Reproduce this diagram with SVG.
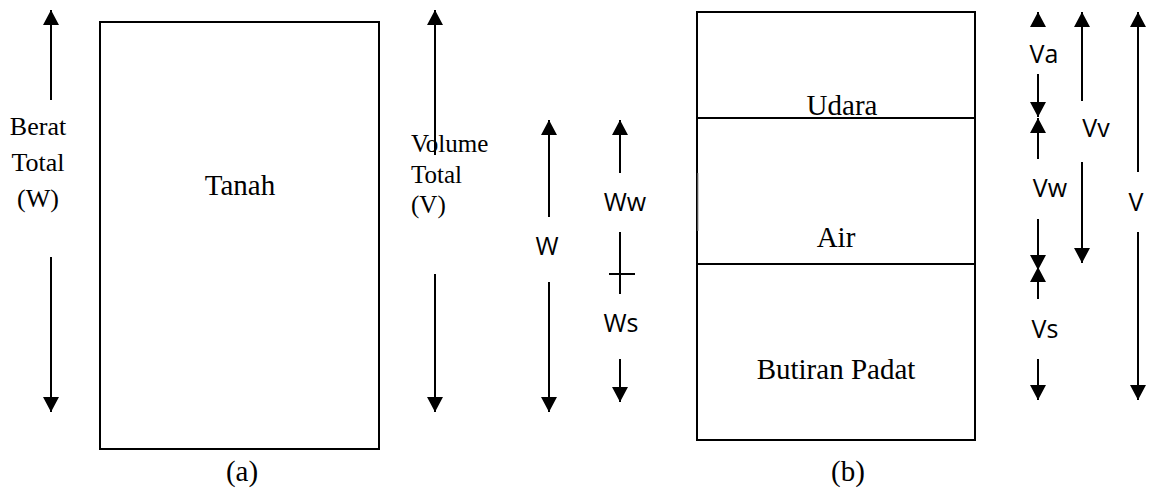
<svg xmlns="http://www.w3.org/2000/svg" width="1149" height="488" viewBox="0 0 1149 488">
<style>
.serif{font-family:"Liberation Serif","Times New Roman",serif;fill:#000}
.s26{font-size:26px}
.s25{font-size:25px}
.s29{font-size:29px}
.sans{font-family:"Open Sans","Noto Sans","Liberation Sans",sans-serif;font-size:25px;fill:#000}
.box{fill:#fff;stroke:#000;stroke-width:2}
.ln{stroke:#000;stroke-width:2;fill:none}
.arr{stroke:#000;stroke-width:2;fill:none;marker-end:url(#ah)}
</style>
<defs>
<marker id="ah" viewBox="0 0 15 16" refX="15" refY="8" markerWidth="15" markerHeight="16" markerUnits="userSpaceOnUse" orient="auto">
<path d="M0,0 L15,8 L0,16 Z" fill="#000"/>
</marker>
</defs>

<g id="tanah">
<rect class="box" x="100" y="22" width="279" height="427"/>
<text class="serif s29" x="240" y="195" text-anchor="middle">Tanah</text>
</g>

<g id="label-a"><text class="serif s29" x="242" y="481" text-anchor="middle">(a)</text></g>

<g id="berat-total">
<text class="serif s26" x="38" y="135" text-anchor="middle">Berat</text>
<text class="serif s26" x="38" y="171" text-anchor="middle">Total</text>
<text class="serif s26" x="38" y="207" text-anchor="middle">(W)</text>
</g>

<g id="volume-total">
<text class="serif s25" x="411" y="152">Volume</text>
<text class="serif s25" x="411" y="183">Total</text>
<text class="serif s25" x="411" y="213">(V)</text>
</g>

<g id="fase-tanah">
<rect class="box" x="697" y="12" width="278" height="428" stroke="none"/>
<line class="ln" x1="697" y1="12" x2="975" y2="12"/>
<line class="ln" x1="975" y1="12" x2="975" y2="440"/>
<line class="ln" x1="697" y1="440" x2="975" y2="440"/>
<line class="ln" x1="697" y1="12" x2="697" y2="173"/>
<line stroke="#999" stroke-width="1" x1="698" y1="173" x2="698" y2="231"/>
<line class="ln" x1="697" y1="231" x2="697" y2="440"/>
<line class="ln" x1="697" y1="118" x2="975" y2="118"/>
<line class="ln" x1="697" y1="264" x2="975" y2="264"/>
</g>
<g id="udara"><text class="serif s29" x="842" y="115" text-anchor="middle">Udara</text></g>
<g id="air"><text class="serif s29" x="836" y="247" text-anchor="middle">Air</text></g>
<g id="butiran"><text class="serif s29" x="836" y="379" text-anchor="middle">Butiran Padat</text></g>
<g id="label-b"><text class="serif s29" x="848" y="481" text-anchor="middle">(b)</text></g>

<g id="sym-labels">
<text class="sans" x="547" y="255" text-anchor="middle">W</text>
<text class="sans" x="625" y="211" text-anchor="middle">Ww</text>
<text class="sans" x="621" y="332" text-anchor="middle">Ws</text>
<text class="sans" x="1044" y="63" text-anchor="middle">Va</text>
<text class="sans" x="1050" y="197" text-anchor="middle">Vw</text>
<text class="sans" x="1045" y="338" text-anchor="middle">Vs</text>
<text class="sans" x="1096" y="137" text-anchor="middle">Vv</text>
<text class="sans" x="1136" y="211" text-anchor="middle">V</text>
</g>

<g id="connectors">
<!-- Berat total -->
<line class="arr" x1="51" y1="100" x2="51" y2="10"/>
<line class="arr" x1="51" y1="257" x2="51" y2="412"/>
<!-- Volume total -->
<line class="arr" x1="435" y1="155" x2="435" y2="10"/>
<line class="arr" x1="435" y1="274" x2="435" y2="412"/>
<!-- W -->
<line class="arr" x1="549" y1="217" x2="549" y2="120"/>
<line class="arr" x1="549" y1="282" x2="549" y2="412"/>
<!-- Ww / Ws -->
<line class="arr" x1="620" y1="173" x2="620" y2="120"/>
<line class="ln" x1="620" y1="232" x2="620" y2="294"/>
<line class="ln" x1="609" y1="274" x2="635" y2="274"/>
<line class="arr" x1="620" y1="359" x2="620" y2="402"/>
<!-- Va -->
<line class="arr" x1="1038" y1="26" x2="1038" y2="12"/>
<line class="arr" x1="1038" y1="74" x2="1038" y2="117"/>
<!-- Vw -->
<line class="arr" x1="1038" y1="159" x2="1038" y2="118"/>
<line class="arr" x1="1038" y1="219" x2="1038" y2="270"/>
<!-- Vs -->
<line class="arr" x1="1038" y1="299" x2="1038" y2="267"/>
<line class="arr" x1="1038" y1="359" x2="1038" y2="400"/>
<!-- Vv -->
<line class="arr" x1="1082" y1="101" x2="1082" y2="12"/>
<line class="arr" x1="1082" y1="162" x2="1082" y2="263"/>
<!-- V -->
<line class="arr" x1="1138" y1="172" x2="1138" y2="12"/>
<line class="arr" x1="1138" y1="232" x2="1138" y2="400"/>
</g>
</svg>
